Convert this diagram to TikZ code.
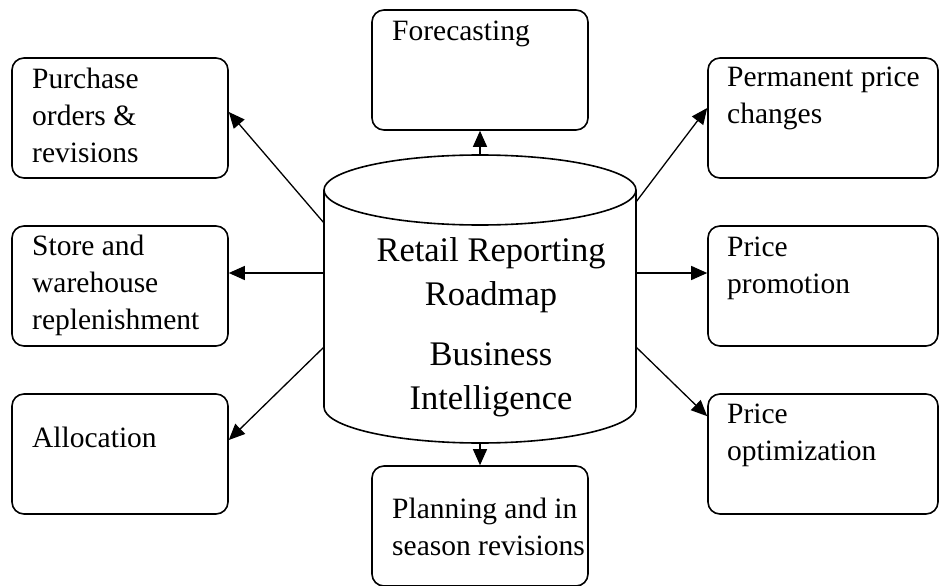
\documentclass[tikz,border=0pt]{standalone}
\usepackage{fontspec}
\setmainfont{Liberation Serif}
\usetikzlibrary{arrows.meta}
\begin{document}
\begin{tikzpicture}[x=1pt,y=-1pt,line join=round]
	\tikzset{box/.style={draw,line width=1.6pt,rounded corners=12pt,minimum width=216pt,minimum height=120pt,inner sep=0pt},
		wbox/.style={box,minimum width=230pt},
		txt/.style={anchor=north west,inner sep=0pt,align=left,font=\fontsize{29.5}{37}\selectfont},
		bigtxt/.style={anchor=north,inner sep=0pt,align=center,font=\fontsize{34.5}{44}\selectfont},
		link/.style={-{Triangle[length=16pt,width=14pt]},line width=1.3pt}}
	\useasboundingbox (0,0) rectangle (940,586);
	% boxes round the store
	\node[box] (purch) at (120,118) {};
	\node[box] (store) at (120,286) {};
	\node[box] (alloc) at (120,454) {};
	\node[box] (fore) at (480,70) {};
	\node[box] (plan) at (480,526) {};
	\node[wbox] (perm) at (823,118) {};
	\node[wbox] (promo) at (823,286) {};
	\node[wbox] (optim) at (823,454) {};
	\node[txt] (purcht) at (32,68) {Purchase\\orders \&\\revisions};
	\node[txt] (storet) at (32,235) {Store and\\warehouse\\replenishment};
	\node[txt] (alloct) at (32,427) {Allocation};
	\node[txt] (foret) at (392,21) {Forecasting};
	\node[txt] (plant) at (392,498) {Planning and in\\season revisions};
	\node[txt] (permt) at (727,67) {Permanent price\\changes};
	\node[txt] (promot) at (727,237) {Price\\promotion};
	\node[txt] (optimt) at (727,404) {Price\\optimization};
	% the data store
	\draw[line width=1.6pt] (480,190) ellipse [x radius=156, y radius=35];
	\draw[line width=1.6pt] (324,190) -- (324,407) arc[start angle=180, end angle=0, x radius=156, y radius=36] -- (636,190);
	\node[bigtxt] (roadmap) at (491,237) {Retail Reporting\\Roadmap};
	\node[bigtxt] (bi) at (491,342) {Business\\Intelligence};
	\coordinate (cn) at (480,155);
	\coordinate (cs) at (480,443);
	\coordinate (cnw) at (324,223);
	\coordinate (cw) at (324,273);
	\coordinate (csw) at (324,347);
	\coordinate (cne) at (636,202);
	\coordinate (ce) at (636,273);
	\coordinate (cse) at (636,347);
	\draw[link] (cn) -- (fore.south);
	\draw[link] (cs) -- (plan.north);
	\draw[link] (cnw) -- ([yshift=6pt]purch.east);
	\draw[link] (cw) -- (cw -| store.east);
	\draw[link] (csw) -- ([yshift=14pt]alloc.east);
	\draw[link] (cne) -- ([yshift=10pt]perm.west);
	\draw[link] (ce) -- (ce -| promo.west);
	\draw[link] (cse) -- ([yshift=-23pt]optim.north west);
\end{tikzpicture}
\end{document}
